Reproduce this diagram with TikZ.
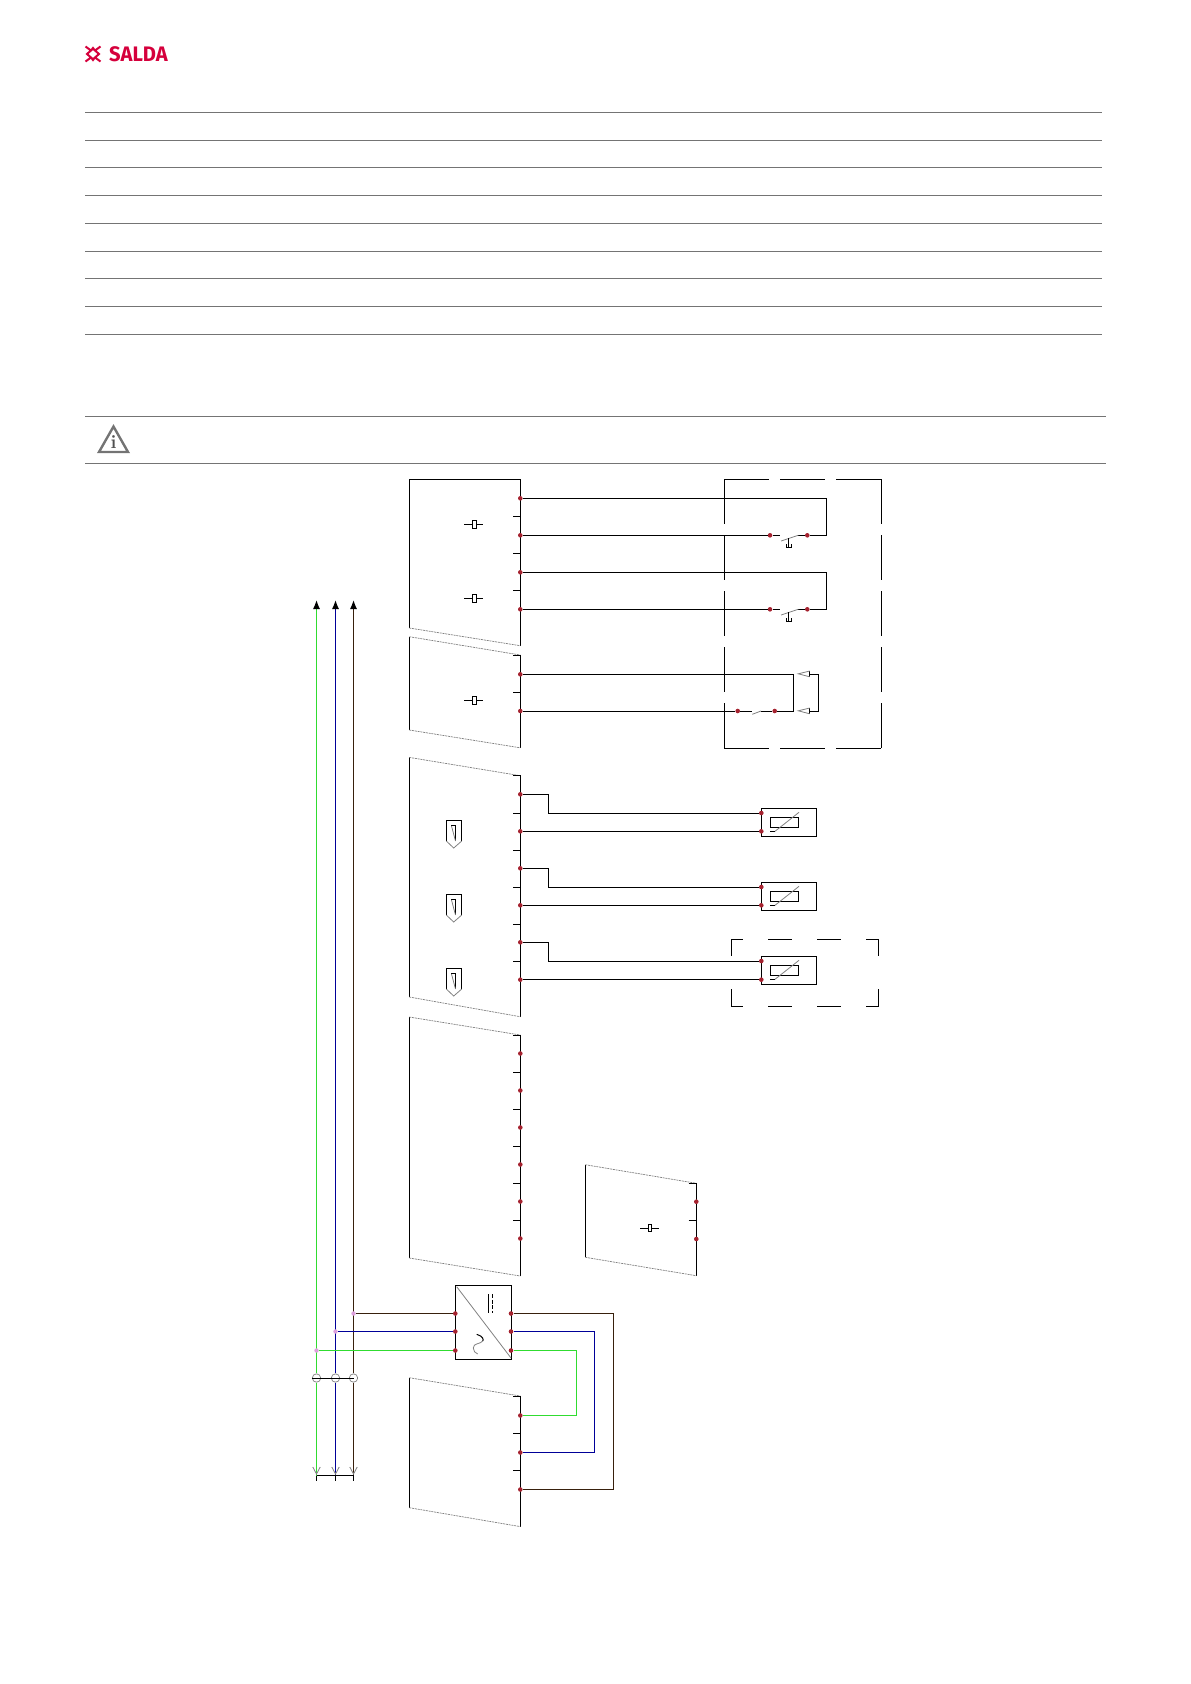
\documentclass[tikz,border=0pt]{standalone}
\usepackage{fontspec}
\newfontfamily\brandfont{Fira Sans}
\usetikzlibrary{arrows.meta}
\definecolor{brandred}{HTML}{D5003C}
\definecolor{rulegray}{HTML}{747474}
\definecolor{pinred}{HTML}{A5222F}
\definecolor{tappink}{HTML}{DDA0DD}
\definecolor{wiregreen}{HTML}{30DC30}
\definecolor{wireblue}{HTML}{000098}
\definecolor{wirebrown}{HTML}{38200C}
\tikzset{
  rule/.style={rulegray, line width=1pt},
  wire/.style={black, line width=1pt},
  green wire/.style={wiregreen, line width=1.2pt},
  blue wire/.style={wireblue, line width=1.2pt},
  brown wire/.style={wirebrown, line width=1.2pt},
  tear/.style={gray, line width=.7pt, dash pattern=on 2pt off .8pt},
  blade/.style={gray, line width=.8pt},
  pin/.style={circle, fill=pinred, inner sep=0pt, minimum size=4.6pt},
  tap/.style={circle, fill=tappink, inner sep=0pt, minimum size=4.4pt},
  joint/.style={circle, draw=gray, line width=.7pt, inner sep=0pt, minimum size=8.4pt},
  boxed/.style={draw, line width=1pt, inner sep=0pt, outer sep=0pt},
  longdash/.style={wire, dash pattern=on 45pt off 11pt},
  logoline/.style={brandred, line width=2pt}
}
\begin{document}
\begin{tikzpicture}[x=1pt, y=-1pt]
\useasboundingbox (0,0) rectangle (1191,1684);
\draw[logoline] (85.5,46.5) -- (91,50.5) -- (87,54) -- (91,57.5) -- (85.5,61.5);
\draw[logoline] (100.5,46.5) -- (95,50.5) -- (99,54) -- (95,57.5) -- (100.5,61.5);
\draw[logoline] (91,50.5) -- (93,48) -- (95,50.5);
\draw[logoline] (91,57.5) -- (93,60) -- (95,57.5);
\node[anchor=west, inner sep=0pt, xscale=.96, text=brandred, font=\brandfont\bfseries\fontsize{21}{21}\selectfont] (brand) at (109,54) {SALDA};
\draw[rule] (85,112.3) -- (1101.5,112.3);
\draw[rule] (85,140.1) -- (1101.5,140.1);
\draw[rule] (85,167.9) -- (1101.5,167.9);
\draw[rule] (85,195.7) -- (1101.5,195.7);
\draw[rule] (85,223.5) -- (1101.5,223.5);
\draw[rule] (85,251.3) -- (1101.5,251.3);
\draw[rule] (85,278.8) -- (1101.5,278.8);
\draw[rule] (85,306.9) -- (1101.5,306.9);
\draw[rule] (85,334.7) -- (1101.5,334.7);
\draw[rule] (85,416.3) -- (1106,416.3);
\draw[rule] (85,463.3) -- (1106,463.3);
\draw[rulegray, line width=2.4pt] (113.5,426.5) -- (128,452) -- (99,452) -- cycle;
\node[text=rulegray!70!black, inner sep=0pt, font=\bfseries\fontsize{19}{19}\selectfont] (infoi) at (113.5,442.5) {i};
\draw[wire] (409.3,628) -- (409.3,479.3) -- (520.3,479.3) -- (520.3,645.7);
\draw[tear] (409.3,628) -- (520.3,645.7);
\draw[wire] (513,516.3) -- (520.3,516.3);
\draw[wire] (513,553.3) -- (520.3,553.3);
\draw[wire] (513,590.3) -- (520.3,590.3);
\draw[wire] (464.3,524.3) -- (472.3,524.3);
\draw[wire] (476.7,524.3) -- (482.7,524.3);
\draw[wire] (472.3,520.3) rectangle (476.7,528.7);
\draw[wire] (464.3,598.3) -- (472.3,598.3);
\draw[wire] (476.7,598.3) -- (482.7,598.3);
\draw[wire] (472.3,594.3) rectangle (476.7,602.7);
\draw[wire] (409.3,730) -- (409.3,636.7);
\draw[tear] (409.3,636.7) -- (520.3,655);
\draw[wire] (513,655.3) -- (520.3,655.3) -- (520.3,747.8);
\draw[tear] (409.3,730) -- (520.3,747.8);
\draw[wire] (513,692.6) -- (520.3,692.6);
\draw[wire] (464.3,700.3) -- (472.3,700.3);
\draw[wire] (476.7,700.3) -- (482.7,700.3);
\draw[wire] (472.3,696.3) rectangle (476.7,704.7);
\draw[wire] (409.3,997) -- (409.3,757.4);
\draw[tear] (409.3,757.4) -- (520.3,775.7);
\draw[wire] (513,775.7) -- (520.3,775.7) -- (520.3,1016.7);
\draw[tear] (409.3,997) -- (520.3,1016.7);
\draw[wire] (513,813) -- (520.3,813);
\draw[wire] (513,850.3) -- (520.3,850.3);
\draw[wire] (513,887.3) -- (520.3,887.3);
\draw[wire] (513,924.3) -- (520.3,924.3);
\draw[wire] (513,961.7) -- (520.3,961.7);
\draw[wire] (446.3,841) -- (446.3,820.3) -- (461.7,820.3) -- (461.7,841);
\draw[blade] (446.3,841) -- (453.7,848) -- (461.7,841);
\draw[wire] (451.3,825.7) -- (455.7,825.7) -- (455.7,841);
\draw[blade] (451.5,826) -- (455.5,841);
\draw[wire] (446.3,915) -- (446.3,894.3) -- (461.7,894.3) -- (461.7,915);
\draw[blade] (446.3,915) -- (453.7,922) -- (461.7,915);
\draw[wire] (451.3,899.7) -- (455.7,899.7) -- (455.7,915);
\draw[blade] (451.5,900) -- (455.5,915);
\draw[wire] (446.3,989) -- (446.3,968.3) -- (461.7,968.3) -- (461.7,989);
\draw[blade] (446.3,989) -- (453.7,996) -- (461.7,989);
\draw[wire] (451.3,973.7) -- (455.7,973.7) -- (455.7,989);
\draw[blade] (451.5,974) -- (455.5,989);
\draw[wire] (409.3,1258) -- (409.3,1017);
\draw[tear] (409.3,1017) -- (520.3,1035);
\draw[wire] (513,1035) -- (520.3,1035) -- (520.3,1276);
\draw[tear] (409.3,1258) -- (520.3,1276);
\draw[wire] (513,1072) -- (520.3,1072);
\draw[wire] (513,1109) -- (520.3,1109);
\draw[wire] (513,1146) -- (520.3,1146);
\draw[wire] (513,1183) -- (520.3,1183);
\draw[wire] (513,1220) -- (520.3,1220);
\draw[wire] (585.3,1257.3) -- (585.3,1164.7);
\draw[tear] (585.3,1164.7) -- (696.3,1183.3);
\draw[wire] (688.7,1183.3) -- (696.3,1183.3) -- (696.3,1275.7);
\draw[tear] (585.3,1257.3) -- (696.3,1275.7);
\draw[wire] (688.7,1220.3) -- (696.3,1220.3);
\draw[wire] (640.3,1228.3) -- (648.3,1228.3);
\draw[wire] (651.7,1228.3) -- (659,1228.3);
\draw[wire] (648.3,1224.3) rectangle (651.7,1231.7);
\draw[wire] (409.3,1507.7) -- (409.3,1377.7);
\draw[tear] (409.3,1377.7) -- (520.3,1396);
\draw[wire] (513,1396) -- (520.3,1396) -- (520.3,1526.6);
\draw[tear] (409.3,1507.7) -- (520.3,1526.6);
\draw[wire] (513,1433.3) -- (520.3,1433.3);
\draw[wire] (513,1470.3) -- (520.3,1470.3);
\draw[longdash] (724.3,479.3) -- (881.7,479.3);
\draw[longdash] (724.3,748.3) -- (881.7,748.3);
\draw[longdash] (724.3,479.3) -- (724.3,748.3);
\draw[longdash] (881.7,479.3) -- (881.7,748.3);
\draw[wire, dash pattern=on 24pt off 25pt, dash phase=12.3pt] (731.3,939.3) -- (878.7,939.3);
\draw[wire, dash pattern=on 24pt off 25pt, dash phase=12.3pt] (731.3,1006.3) -- (878.7,1006.3);
\draw[wire, dash pattern=on 16.5pt off 33.5pt] (731.3,939.3) -- (731.3,1006.3);
\draw[wire, dash pattern=on 16.5pt off 33.5pt] (878.7,939.3) -- (878.7,1006.3);
\node[pin] (pin1) at (520.3,498.3){};
\node[pin] (pin2) at (520.3,535.3){};
\node[pin] (pin3) at (520.3,572.3){};
\node[pin] (pin4) at (520.3,609.3){};
\node[pin] (pin5) at (520.3,674.3){};
\node[pin] (pin6) at (520.3,711){};
\node[pin] (pin7) at (520.3,794.3){};
\node[pin] (pin8) at (520.3,831.3){};
\node[pin] (pin9) at (520.3,868.3){};
\node[pin] (pin10) at (520.3,905.3){};
\node[pin] (pin11) at (520.3,942.3){};
\node[pin] (pin12) at (520.3,979.7){};
\node[pin] (pin13) at (520.3,1053.5){};
\node[pin] (pin14) at (520.3,1090.5){};
\node[pin] (pin15) at (520.3,1127.5){};
\node[pin] (pin16) at (520.3,1164.5){};
\node[pin] (pin17) at (520.3,1201.5){};
\node[pin] (pin18) at (520.3,1238.5){};
\node[pin] (pin19) at (696.3,1201.7){};
\node[pin] (pin20) at (696.3,1239){};
\node[pin] (pin21) at (520.3,1415.5){};
\node[pin] (pin22) at (520.3,1452.5){};
\node[pin] (pin23) at (520.3,1489.5){};
\node[pin] (sw1a) at (770,535.3){};
\node[pin] (sw1b) at (807.3,535.3){};
\node[pin] (sw2a) at (770,609.3){};
\node[pin] (sw2b) at (807.3,609.3){};
\node[pin] (sw3a) at (737.7,711){};
\node[pin] (sw3b) at (774.7,711){};
\coordinate (lp1a) at (826.3,498.3);
\coordinate (lp1b) at (826.3,535.3);
\coordinate (lp2a) at (826.3,572.3);
\coordinate (lp2b) at (826.3,609.3);
\coordinate (lp3a) at (793.3,674.3);
\coordinate (lp3b) at (793.3,711);
\draw[wire](pin1) -- (lp1a) -- (lp1b) -- (sw1b);
\draw[wire](pin2) -- (sw1a);
\draw[wire](pin3) -- (lp2a) -- (lp2b) -- (sw2b);
\draw[wire](pin4) -- (sw2a);
\draw[wire](pin5) -- (lp3a) -- (lp3b) -- (sw3b);
\draw[wire](pin6) -- (sw3a);
\draw[wire](sw1a) -- (780,535.3);
\draw[wire](sw1b) -- (798.3,535.3);
\draw[blade] (781,541) -- (798.3,535.3);
\draw[wire] (788.7,538) -- (788.7,547.3);
\draw[wire] (786.3,544) -- (786.3,547.3) -- (791.7,547.3) -- (791.7,544);
\draw[wire](sw2a) -- (780,609.3);
\draw[wire](sw2b) -- (798.3,609.3);
\draw[blade] (781,615) -- (798.3,609.3);
\draw[wire] (788.7,612) -- (788.7,621.3);
\draw[wire] (786.3,618) -- (786.3,621.3) -- (791.7,621.3) -- (791.7,618);
\draw[wire](sw3a) -- (751.7,711);
\draw[wire](sw3b) -- (761,711);
\draw[blade] (752.3,714.3) -- (761,711);
\coordinate (tip1) at (809.7,674);
\coordinate (tip2) at (809.7,711);
\coordinate (lp4a) at (818.3,674);
\coordinate (lp4b) at (818.3,711);
\draw[wire](tip1) -- (lp4a) -- (lp4b) -- (tip2);
\draw[wire] (809.7,671) -- (809.7,676.8);
\draw[blade] (809.7,671) -- (798.3,673.8) -- (809.7,676.8);
\draw[wire] (809.7,708) -- (809.7,713.8);
\draw[blade] (809.7,708) -- (798.3,710.8) -- (809.7,713.8);
\node[boxed, minimum width=55.4pt, minimum height=28pt] (sens1) at (789,822.3){};
\node[boxed, minimum width=55.4pt, minimum height=28pt] (sens2) at (789,896.3){};
\node[boxed, minimum width=55.4pt, minimum height=28pt] (sens3) at (789,970.3){};
\node[boxed, minimum width=28.4pt, minimum height=10pt] (res1) at (784.5,822.3){};
\node[boxed, minimum width=28.4pt, minimum height=10pt] (res2) at (784.5,896.3){};
\node[boxed, minimum width=28.4pt, minimum height=10pt] (res3) at (784.5,970.3){};
\draw[wire] (770.3,831.3) -- (775,831.3);
\draw[blade] (775,831.3) -- (799,812.3);
\draw[wire] (770.3,905.3) -- (775,905.3);
\draw[blade] (775,905.3) -- (799,886.3);
\draw[wire] (770.3,979.3) -- (775,979.3);
\draw[blade] (775,979.3) -- (799,960.3);
\node[pin] (sens1a) at (761.3,813){};
\node[pin] (sens1b) at (761.3,831.3){};
\node[pin] (sens2a) at (761.3,887){};
\node[pin] (sens2b) at (761.3,905.3){};
\node[pin] (sens3a) at (761.3,961){};
\node[pin] (sens3b) at (761.3,979.7){};
\coordinate (jog1a) at (548.3,794.3);
\coordinate (jog1b) at (548.3,813);
\coordinate (jog2a) at (548.3,868.3);
\coordinate (jog2b) at (548.3,887);
\coordinate (jog3a) at (548.3,942.3);
\coordinate (jog3b) at (548.3,961);
\draw[wire](pin7) -- (jog1a) -- (jog1b) -- (sens1a);
\draw[wire](pin8) -- (sens1b);
\draw[wire](pin9) -- (jog2a) -- (jog2b) -- (sens2a);
\draw[wire](pin10) -- (sens2b);
\draw[wire](pin11) -- (jog3a) -- (jog3b) -- (sens3a);
\draw[wire](pin12) -- (sens3b);
\node[boxed, minimum width=56pt, minimum height=74pt] (conv) at (483.3,1322.3){};
\draw[blade] (456.7,1286.7) -- (511,1358);
\draw[wire] (488.3,1294.3) -- (488.3,1312.7);
\draw[wire, dash pattern=on 4pt off 1.5pt] (492.7,1294.3) -- (492.7,1312.7);
\draw[wire] (476.7,1334.3) .. controls (483,1336) and (484,1340) .. (482.7,1341);
\draw[blade] (482.7,1341) .. controls (481,1344) and (473,1343) .. (473.3,1348) .. controls (473.5,1351) and (475,1353) .. (477.7,1354);
\node[joint] (joint1) at (316.5,1378){};
\node[joint] (joint2) at (335.5,1378){};
\node[joint] (joint3) at (353.5,1378){};
\coordinate (top1) at (316.5,600);
\coordinate (top2) at (335.5,600);
\coordinate (top3) at (353.5,600);
\coordinate (end1) at (316.5,1475.5);
\coordinate (end2) at (335.5,1475.5);
\coordinate (end3) at (353.5,1475.5);
\draw[green wire, -{Latex[black, length=9pt, width=7pt]}](joint1) -- (top1);
\draw[blue wire, -{Latex[black, length=9pt, width=7pt]}](joint2) -- (top2);
\draw[brown wire, -{Latex[black, length=9pt, width=7pt]}](joint3) -- (top3);
\draw[green wire](joint1) -- (end1);
\draw[blue wire](joint2) -- (end2);
\draw[brown wire](joint3) -- (end3);
\draw[wire](joint1.west) -- (joint3.center);
\draw[wire](end1) -- (end3);
\draw[wire](end1) -- ++(0,5.4);
\draw[wire](end2) -- ++(0,5.4);
\draw[wire](end3) -- ++(0,5.4);
\draw[blade] (312.8,1467) -- (316.5,1474) -- (320.2,1467);
\draw[blade] (331.8,1467) -- (335.5,1474) -- (339.2,1467);
\draw[blade] (349.8,1467) -- (353.5,1474) -- (357.2,1467);
\node[tap] (tap1) at (316.5,1350.5){};
\node[tap] (tap2) at (335.5,1331.5){};
\node[tap] (tap3) at (353.5,1313.5){};
\node[pin] (in1) at (455.3,1350.5){};
\node[pin] (in2) at (455.3,1331.5){};
\node[pin] (in3) at (455.3,1313.5){};
\node[pin] (out1) at (511,1350.5){};
\node[pin] (out2) at (511,1331.5){};
\node[pin] (out3) at (511,1313.5){};
\coordinate (bend1a) at (576.5,1350.5);
\coordinate (bend1b) at (576.5,1415.5);
\coordinate (bend2a) at (594.5,1331.5);
\coordinate (bend2b) at (594.5,1452.5);
\coordinate (bend3a) at (613.5,1313.5);
\coordinate (bend3b) at (613.5,1489.5);
\draw[green wire](tap1) -- (in1);
\draw[blue wire](tap2) -- (in2);
\draw[brown wire](tap3) -- (in3);
\draw[green wire](out1) -- (bend1a) -- (bend1b) -- (pin21);
\draw[blue wire](out2) -- (bend2a) -- (bend2b) -- (pin22);
\draw[brown wire](out3) -- (bend3a) -- (bend3b) -- (pin23);
\end{tikzpicture}
\end{document}
